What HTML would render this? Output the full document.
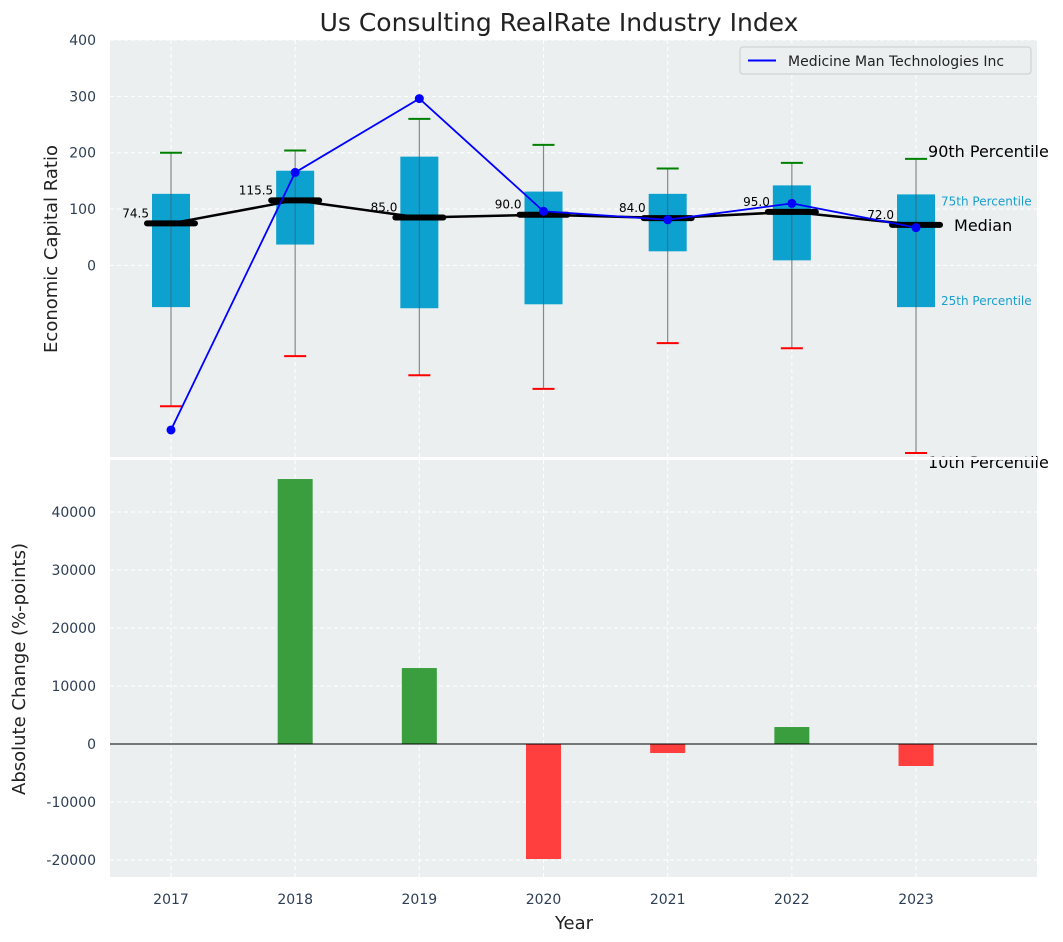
<!DOCTYPE html>
<html><head><meta charset="utf-8"><style>
body{margin:0;background:#fff;}
svg{display:block;font-family:"DejaVu Sans","Liberation Sans",sans-serif;}
</style></head><body>
<svg id="c" width="1063" height="942" xmlns="http://www.w3.org/2000/svg"></svg>
<script>
const years=[2017,2018,2019,2020,2021,2022,2023];
const p10=[-250,-161,-195,-219,-138,-147,-333];
const q1=[-74,37,-76,-69,25,9,-74];
const medians=[74.5,115.5,85.0,90.0,84.0,95.0,72.0];
const q3=[127,168,193,131,127,142,126];
const p90=[200,204,260,214,172,182,189];
const company=[-292,165,296,96,81,110,67];
const changes=[0,45690,13100,-19830,-1550,2930,-3790];
const topTicks=[0,100,200,300,400];
const botTicks=[-20000,-10000,0,10000,20000,30000,40000];

const svg=document.getElementById('c');
const NS='http://www.w3.org/2000/svg';
function mk(tag,attrs,parent){const e=document.createElementNS(NS,tag);for(const k in attrs)e.setAttribute(k,attrs[k]);(parent||svg).appendChild(e);return e;}
const L=110,R=1037;
const xS=i=>171+i*124.17;
const T0=40,T1=457,tMin=-340,tMax=400;
const yT=v=>T0+(tMax-v)/(tMax-tMin)*(T1-T0);
const B0=460,B1=877,bMin=-22930,bMax=48970;
const yB=v=>B0+(bMax-v)/(bMax-bMin)*(B1-B0);

let e=mk('rect',{x:L,y:T0,width:R-L,height:T1-T0,fill:'#ebeff0'});

e=mk('rect',{x:L,y:B0,width:R-L,height:B1-B0,fill:'#ebeff0'});


years.forEach((y,i)=>{
  mk('line',{x1:xS(i),x2:xS(i),y1:T0,y2:T1,stroke:'#fff','stroke-dasharray':'4,3','stroke-width':1});
  mk('line',{x1:xS(i),x2:xS(i),y1:B0,y2:B1,stroke:'#fff','stroke-dasharray':'4,3','stroke-width':1});
});
topTicks.forEach(t=>{
  mk('line',{x1:L,x2:R,y1:yT(t),y2:yT(t),stroke:'#fff','stroke-dasharray':'4,3'});
  e=mk('text',{x:96,y:yT(t)+5,'text-anchor':'end','font-size':14,fill:'#2e3e55'});e.textContent=t;
  
});
botTicks.forEach(t=>{
  mk('line',{x1:L,x2:R,y1:yB(t),y2:yB(t),stroke:'#fff','stroke-dasharray':'4,3'});
  e=mk('text',{x:96,y:yB(t)+5,'text-anchor':'end','font-size':14,fill:'#2e3e55'});e.textContent=t;
  
});

years.forEach((y,i)=>{
  const x=xS(i);
  e=mk('line',{x1:x,x2:x,y1:yT(p90[i]),y2:yT(p10[i]),stroke:'#888','stroke-width':1.2});
  
  e=mk('rect',{x:x-19,y:yT(q3[i]),width:38,height:yT(q1[i])-yT(q3[i]),fill:'#009ccc',opacity:0.95});
  
  mk('line',{x1:x,x2:x,y1:yT(q3[i]),y2:yT(q1[i]),stroke:'#555','stroke-width':1,opacity:0.6});
  e=mk('line',{x1:x-11,x2:x+11,y1:yT(p90[i]),y2:yT(p90[i]),stroke:'green','stroke-width':2});
  
  e=mk('line',{x1:x-11,x2:x+11,y1:yT(p10[i]),y2:yT(p10[i]),stroke:'red','stroke-width':2});
  
});
e=mk('polyline',{points:medians.map((m,i)=>xS(i)+','+yT(m)).join(' '),fill:'none',stroke:'#000','stroke-width':2.5});

medians.forEach((m,i)=>{
  const x=xS(i);
  e=mk('line',{x1:x-24,x2:x+24,y1:yT(m),y2:yT(m),stroke:'#000','stroke-width':6,'stroke-linecap':'round'});
  
  e=mk('text',{x:x-22,y:yT(m)-6,'text-anchor':'end','font-size':12,fill:'#000'});e.textContent=m.toFixed(1);
  
});
e=mk('polyline',{points:company.map((v,i)=>xS(i)+','+yT(v)).join(' '),fill:'none',stroke:'#0000ff','stroke-width':1.8});

company.forEach((v,i)=>{
  e=mk('circle',{cx:xS(i),cy:yT(v),r:4.5,fill:'#0000ff'});
  
});
const li=6,lx=xS(li);
[[p90[li],'90th Percentile',16,'#000',12,-2],[q3[li],'75th Percentile',12,'#1aa0cc',25,11],[medians[li],'Median',16,'#000',38,6],[q1[li],'25th Percentile',12,'#1aa0cc',25,-2],[p10[li],'10th Percentile',16,'#000',12,15]].forEach(a=>{
  e=mk('text',{x:lx+a[4],y:yT(a[0])+a[5],'font-size':a[2],fill:a[3]});e.textContent=a[1];
  
});
mk('rect',{x:L,y:T1,width:R-L,height:3,fill:'#fff'});
changes.forEach((v,i)=>{
  if(v===0)return;
  const y0=yB(Math.max(v,0)),y1=yB(Math.min(v,0));
  e=mk('rect',{x:xS(i)-17.5,y:y0,width:35,height:y1-y0,fill:v>0?'#3a9e3e':'#ff3e3e'});
  
});
e=mk('line',{x1:L,x2:R,y1:yB(0),y2:yB(0),stroke:'#000','stroke-width':1});

years.forEach((y,i)=>{
  e=mk('text',{x:xS(i),y:904,'text-anchor':'middle','font-size':14,fill:'#2e3e55'});e.textContent=y;
  
});
e=mk('text',{x:559,y:31,'text-anchor':'middle','font-size':25,fill:'#222'});e.textContent='Us Consulting RealRate Industry Index';

e=mk('text',{x:574,y:929,'text-anchor':'middle','font-size':18,fill:'#222'});e.textContent='Year';

e=mk('text',{x:0,y:0,'text-anchor':'middle','font-size':18,fill:'#222',transform:'translate(57,249) rotate(-90)'});e.textContent='Economic Capital Ratio';

e=mk('text',{x:0,y:0,'text-anchor':'middle','font-size':18,fill:'#222',transform:'translate(25,669) rotate(-90)'});e.textContent='Absolute Change (%-points)';

const lg=mk('g',{});

mk('rect',{x:740,y:47,width:291,height:27,rx:3,fill:'#ebeff0',stroke:'#ccc'},lg);
mk('line',{x1:748,x2:776,y1:60.5,y2:60.5,stroke:'#0000ff','stroke-width':2},lg);
e=mk('text',{x:788,y:66,'font-size':14,fill:'#222'},lg);e.textContent='Medicine Man Technologies Inc';

</script>
</body></html>
